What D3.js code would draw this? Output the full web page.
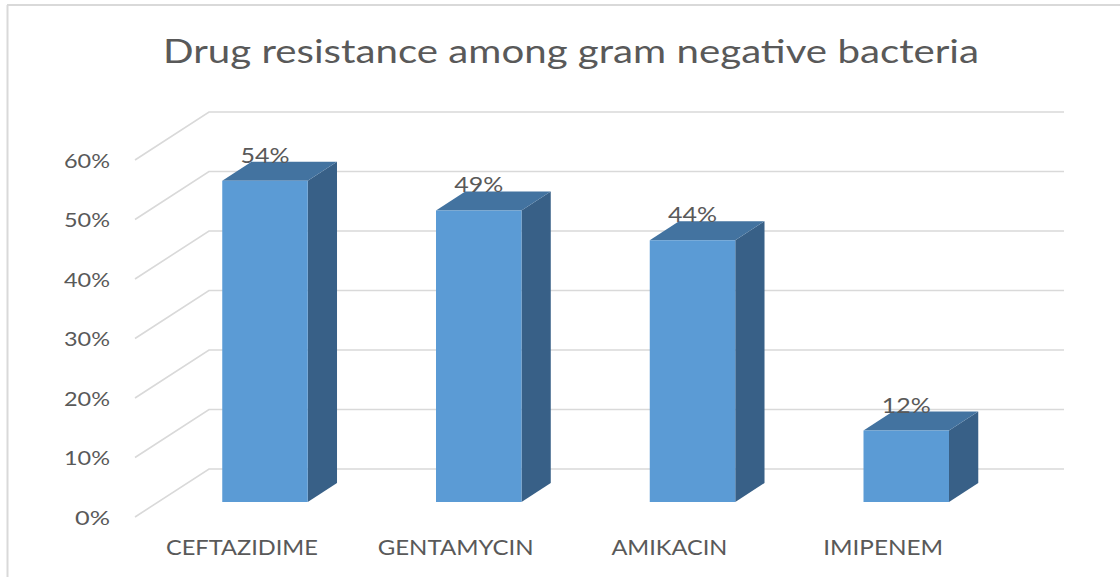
<!DOCTYPE html>
<html>
<head>
<meta charset="utf-8">
<script src="https://cdn.jsdelivr.net/npm/d3@7/dist/d3.min.js"></script>
<style>
  html, body { margin: 0; padding: 0; background: #fff; }
  svg { display: block; }
  text { font-family: Lato, "Open Sans", sans-serif; fill: #595959; }
</style>
</head>
<body>
<svg id="chart" width="1120" height="577"></svg>
<script>
// Drug resistance values (fraction of isolates)
const drugs = ["CEFTAZIDIME", "GENTAMYCIN", "AMIKACIN", "IMIPENEM"];
const resistance = [0.54, 0.49, 0.44, 0.12];
const tickValues = [0, 0.1, 0.2, 0.3, 0.4, 0.5, 0.6];
const tickLabels = ["0%", "10%", "20%", "30%", "40%", "50%", "60%"];
const valueLabels = ["54%", "49%", "44%", "12%"];
const title = "Drug resistance among gram negative bacteria";

const svg = d3.select("#chart");

// Oblique 3D projection: depth 0 = front edge of floor, depth 1 = back wall
const depthVec = { dx: 74, dy: -48 };
const x = d3.scaleBand().domain(drugs).range([135, 990])
  .paddingInner(0.6).paddingOuter(0.3);
const y = d3.scaleLinear().domain([0, 0.6]).range([517, 160]);
const P = (px, v, d) => [px + d * depthVec.dx, y(v) + d * depthVec.dy];

const barDepth = [0.3125, 0.708];
const colors = { front: "#5B9BD5", top: "#4373A0", side: "#386087" };

// chart area border
svg.append("line").attr("x1", 7).attr("x2", 1120).attr("y1", 5).attr("y2", 5)
  .attr("stroke", "#d9d9d9").attr("stroke-width", 2);
svg.append("line").attr("x1", 7.5).attr("x2", 7.5).attr("y1", 5).attr("y2", 577)
  .attr("stroke", "#d9d9d9").attr("stroke-width", 2);

// title
svg.append("text")
  .attr("x", 571).attr("y", 63)
  .attr("text-anchor", "middle")
  .attr("font-size", 33)
  .attr("textLength", 816).attr("lengthAdjust", "spacingAndGlyphs")
  .text(title);

// gridlines: side wall diagonal + back wall horizontal
const [x0, x1] = x.range();
const grid = svg.append("g").attr("stroke", "#d9d9d9").attr("stroke-width", 1.6)
  .attr("fill", "none");
tickValues.forEach(v => {
  const a = P(x0, v, 0), b = P(x0, v, 1), c = P(x1, v, 1);
  grid.append("path").attr("d", d3.line()([a, b, c]));
});

// y-axis tick labels at the front edge of the side wall
const tickWidths = { 1: 35, 2: 46 };
svg.append("g").selectAll("text").data(tickValues).join("text")
  .attr("x", 110)
  .attr("y", v => y(v) + 7.5)
  .attr("text-anchor", "end")
  .attr("font-size", 18.5)
  .attr("textLength", (v, i) => tickWidths[tickLabels[i].length - 1])
  .attr("lengthAdjust", "spacingAndGlyphs")
  .text((v, i) => tickLabels[i]);

// bars
const bars = svg.append("g");
drugs.forEach((name, i) => {
  const v = resistance[i];
  const l = x(name), r = x(name) + x.bandwidth();
  const [df, db] = barDepth;
  const g = bars.append("g");
  const poly = pts => d3.line()(pts) + "Z";
  // right side face
  g.append("path").attr("fill", colors.side)
    .attr("d", poly([P(r, 0, df), P(r, v, df), P(r, v, db), P(r, 0, db)]));
  // top face
  g.append("path").attr("fill", colors.top)
    .attr("d", poly([P(l, v, df), P(r, v, df), P(r, v, db), P(l, v, db)]));
  // front face
  g.append("path").attr("fill", colors.front)
    .attr("d", poly([P(l, 0, df), P(r, 0, df), P(r, v, df), P(l, v, df)]));
});

// value labels
svg.append("g").selectAll("text").data(drugs).join("text")
  .attr("x", d => P(x(d) + x.bandwidth() / 2, 0, barDepth[0])[0])
  .attr("y", (d, i) => P(0, resistance[i], barDepth[1])[1] + 1)
  .attr("text-anchor", "middle")
  .attr("font-size", 21)
  .attr("textLength", 49).attr("lengthAdjust", "spacingAndGlyphs")
  .text((d, i) => valueLabels[i]);

// category labels
const catWidths = [152, 156, 116, 120];
svg.append("g").selectAll("text").data(drugs).join("text")
  .attr("x", d => x(d) + x.bandwidth() / 2)
  .attr("y", 555)
  .attr("text-anchor", "middle")
  .attr("font-size", 20.5)
  .attr("textLength", (d, i) => catWidths[i]).attr("lengthAdjust", "spacingAndGlyphs")
  .text(d => d);
</script>
</body>
</html>
